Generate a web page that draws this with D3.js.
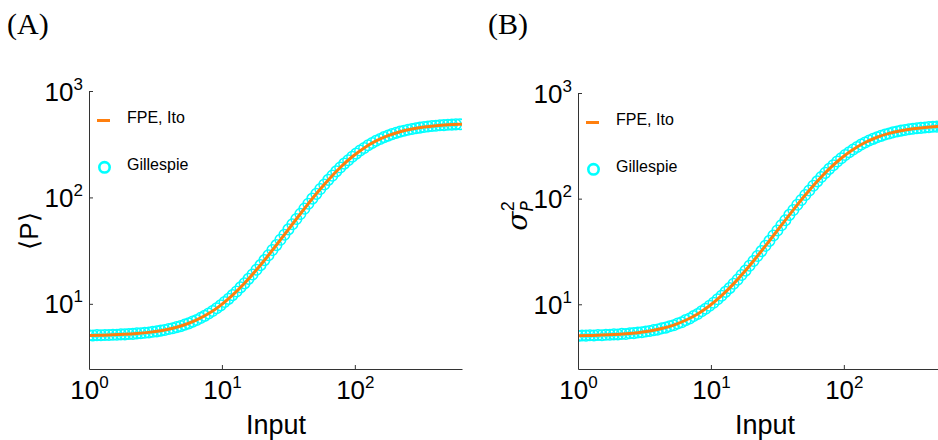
<!DOCTYPE html>
<html>
<head>
<meta charset="utf-8">
<script src="https://cdn.jsdelivr.net/npm/d3@7"></script>
<style>
  body { margin: 0; background: #fff; }
  text { font-family: "Liberation Sans", Arial, sans-serif; fill: #000; }
</style>
</head>
<body>
<svg id="fig" width="938" height="440"></svg>
<script>
// Input levels of the stochastic simulations (log-spaced)
const inputs = [
  1.000, 1.072, 1.148, 1.230, 1.318, 1.413, 1.514, 1.622, 1.738, 1.862,
  1.995, 2.138, 2.291, 2.455, 2.630, 2.818, 3.020, 3.236, 3.467, 3.715,
  3.981, 4.266, 4.571, 4.898, 5.248, 5.623, 6.026, 6.457, 6.918, 7.413,
  7.943, 8.511, 9.120, 9.772, 10.47, 11.22, 12.02, 12.88, 13.80, 14.79,
  15.85, 16.98, 18.20, 19.50, 20.89, 22.39, 23.99, 25.70, 27.54, 29.51,
  31.62, 33.88, 36.31, 38.90, 41.69, 44.67, 47.86, 51.29, 54.95, 58.88,
  63.10, 67.61, 72.44, 77.62, 83.18, 89.13, 95.50, 102.3, 109.6, 117.5,
  125.9, 134.9, 144.5, 154.9, 166.0, 177.8, 190.5, 204.2, 218.8, 234.4,
  251.2, 269.2, 288.4, 309.0, 331.1, 354.8, 380.2, 407.4, 436.5, 467.7,
  501.2, 537.0, 575.4, 616.6
];

// Gillespie estimates of the protein mean <P>
const meanGillespie = [
  5.06, 5.04, 5.08, 5.06, 5.10, 5.09, 5.12, 5.12, 5.16, 5.16,
  5.21, 5.22, 5.27, 5.29, 5.35, 5.38, 5.46, 5.51, 5.60, 5.67,
  5.79, 5.89, 6.04, 6.17, 6.37, 6.55, 6.80, 7.05, 7.37, 7.70,
  8.11, 8.55, 9.09, 9.67, 10.39, 11.13, 12.07, 13.06, 14.27, 15.57,
  17.16, 18.85, 20.89, 23.09, 25.74, 28.58, 31.98, 35.62, 39.95, 44.58,
  50.06, 55.89, 62.71, 69.95, 78.38, 87.20, 97.38, 108.0, 119.9, 132.2,
  146.1, 160.1, 175.6, 190.8, 207.7, 223.8, 241.4, 257.8, 275.5, 291.6,
  308.9, 324.1, 340.2, 354.0, 368.5, 380.7, 393.5, 403.8, 414.9, 423.4,
  432.7, 439.6, 447.3, 452.7, 459.0, 463.2, 468.5, 471.4, 475.8, 478.0,
  481.4, 483.0, 485.9, 487.0
];

// Gillespie estimates of the protein variance sigma_P^2
const varGillespie = [
  5.02, 5.07, 5.05, 5.09, 5.07, 5.12, 5.10, 5.15, 5.14, 5.19,
  5.18, 5.25, 5.24, 5.32, 5.33, 5.41, 5.44, 5.53, 5.58, 5.69,
  5.76, 5.92, 6.01, 6.20, 6.34, 6.58, 6.77, 7.08, 7.34, 7.73,
  8.08, 8.58, 9.06, 9.70, 10.35, 11.17, 12.03, 13.10, 14.22, 15.63,
  17.10, 18.92, 20.82, 23.17, 25.66, 28.69, 31.87, 35.75, 39.82, 44.73,
  49.91, 56.05, 62.52, 70.16, 78.15, 87.46, 97.10, 108.3, 119.6, 132.6,
  145.7, 160.5, 175.2, 191.3, 207.1, 224.4, 240.8, 258.5, 274.8, 292.3,
  308.2, 324.9, 339.5, 354.8, 367.8, 381.5, 392.8, 404.6, 414.2, 424.2,
  432.0, 440.4, 446.6, 453.5, 458.3, 464.0, 467.7, 472.2, 475.1, 478.8,
  480.7, 484.2, 485.1, 488.0
];

// Fokker-Planck (Ito) solution, evaluated on a coarser input grid
const fpeInputs = [
  1.000, 1.230, 1.514, 1.862, 2.291, 2.818, 3.467, 4.266, 5.248, 6.457,
  7.943, 9.772, 12.02, 14.79, 18.20, 22.39, 27.54, 33.88, 41.69, 51.29,
  63.10, 77.62, 95.50, 117.5, 144.5, 177.8, 218.8, 269.2, 331.1, 407.4,
  501.2, 616.6, 640.0
];
const meanFPE = [
  5.05, 5.07, 5.11, 5.17, 5.26, 5.39, 5.59, 5.90, 6.36, 7.06,
  8.10, 9.68, 12.05, 15.60, 20.86, 28.63, 39.90, 55.97, 78.29, 108.1,
  145.9, 191.1, 241.1, 292.0, 339.8, 381.1, 414.5, 440.0, 458.6, 471.8,
  481.0, 487.3, 488.2
];
const varFPE = [
  5.05, 5.07, 5.11, 5.17, 5.26, 5.39, 5.59, 5.90, 6.36, 7.06,
  8.10, 9.68, 12.05, 15.60, 20.86, 28.63, 39.90, 55.97, 78.29, 108.1,
  145.9, 191.1, 241.1, 292.0, 339.8, 381.1, 414.5, 440.0, 458.6, 471.8,
  481.0, 487.3, 488.2
];

const xTicks = [1, 10, 100];
const yTicks = [10, 100, 1000];
const xDomain = [1, 640];
const yDomain = [2.44, 1000];

const legendLabels = ["FPE, Ito", "Gillespie"];
const lineColor = "#ff7f0e";
const markerColor = "#00ffff";

const svg = d3.select("#fig");

const panels = [
  { id: "A", title: "(A)", titleX: 7, left: 89, top: 91, fpe: meanFPE, gil: meanGillespie, ylabel: "mean" },
  { id: "B", title: "(B)", titleX: 488, left: 578, top: 93, fpe: varFPE, gil: varGillespie, ylabel: "var" }
];

const bottom = 369;
const width = 373;

// "10" with a raised exponent
function powerLabel(sel, v) {
  const e = Math.round(Math.log10(v));
  sel.text(null);
  sel.append("tspan").text("10");
  sel.append("tspan").attr("dy", -11).attr("font-size", 17).text(e);
}

panels.forEach(p => {
  const h = bottom - p.top;
  const x = d3.scaleLog().domain(xDomain).range([0, width]);
  const y = d3.scaleLog().domain(yDomain).range([h, 0]);

  svg.append("text")
    .attr("x", p.titleX).attr("y", 34)
    .style("font-family", "'Liberation Serif', 'DejaVu Serif', serif")
    .attr("font-size", 30)
    .text(p.title);

  const g = svg.append("g").attr("transform", `translate(${p.left},${p.top})`);

  g.append("clipPath").attr("id", "clip" + p.id)
    .append("rect").attr("x", 0).attr("y", 0).attr("width", width).attr("height", h);

  const plot = g.append("g").attr("clip-path", `url(#clip${p.id})`);

  // simulation markers
  plot.append("g").selectAll("circle")
    .data(inputs.map((v, i) => [v, p.gil[i]]))
    .join("circle")
    .attr("cx", d => x(d[0]))
    .attr("cy", d => y(d[1]))
    .attr("r", 5.3)
    .attr("fill", "none")
    .attr("stroke", markerColor)
    .attr("stroke-width", 1.5);

  // FPE curve
  plot.append("path")
    .datum(fpeInputs.map((v, i) => [v, p.fpe[i]]))
    .attr("fill", "none")
    .attr("stroke", lineColor)
    .attr("stroke-width", 3)
    .attr("d", d3.line().x(d => x(d[0])).y(d => y(d[1])).curve(d3.curveMonotoneX));

  // axes: left and bottom spines, inward ticks
  const xAxis = g.append("g").attr("transform", `translate(0,${h})`)
    .call(d3.axisBottom(x).tickValues(xTicks).tickSizeInner(-4).tickSizeOuter(0));
  xAxis.selectAll("text").attr("font-size", 26).attr("dy", null).attr("y", 30)
    .each(function(d) { powerLabel(d3.select(this), d); });

  const yAxis = g.append("g")
    .call(d3.axisLeft(y).tickValues(yTicks).tickSizeInner(-4).tickSizeOuter(0));
  yAxis.selectAll("text").attr("font-size", 26).attr("dy", null).attr("x", -6).attr("y", 9)
    .each(function(d) { powerLabel(d3.select(this), d); });

  [xAxis, yAxis].forEach(a => {
    a.selectAll("path, line").attr("stroke", "#333").attr("stroke-width", 1);
    a.selectAll("text").style("font-family", "'Liberation Sans', Arial, sans-serif").attr("fill", "#000");
  });

  // axis titles
  svg.append("text")
    .attr("x", p.left + 187).attr("y", 434)
    .attr("text-anchor", "middle").attr("font-size", 27)
    .text("Input");

  const yl = svg.append("text")
    .attr("transform", `translate(${p.left - 51},${p.id === "A" ? 231 : 216}) rotate(-90)`)
    .attr("text-anchor", "middle").attr("font-size", 26);
  if (p.ylabel === "mean") {
    yl.text("\u27E8P\u27E9");
  } else {
    yl.append("tspan").style("font-family", "'DejaVu Serif', serif").attr("font-style", "italic")
      .attr("font-size", 28).text("\u03C3");
    yl.append("tspan").style("font-family", "'DejaVu Sans', sans-serif").attr("font-style", "italic")
      .attr("font-size", 17).attr("dy", 6).text("P");
    yl.append("tspan").style("font-family", "'Liberation Sans', sans-serif")
      .attr("font-size", 18).attr("dx", -10).attr("dy", -19).text("2");
  }

  // legend
  const lg = g.append("g");
  lg.append("line").attr("x1", 8).attr("x2", 21).attr("y1", 29.5).attr("y2", 29.5)
    .attr("stroke", lineColor).attr("stroke-width", 3);
  lg.append("text").attr("x", 38).attr("y", 32).attr("font-size", 16).text(legendLabels[0]);
  lg.append("circle").attr("cx", 15.5).attr("cy", 76.3).attr("r", 5.2)
    .attr("fill", "none").attr("stroke", markerColor).attr("stroke-width", 2.6);
  lg.append("text").attr("x", 38).attr("y", 79).attr("font-size", 16).text(legendLabels[1]);
});
</script>
</body>
</html>
